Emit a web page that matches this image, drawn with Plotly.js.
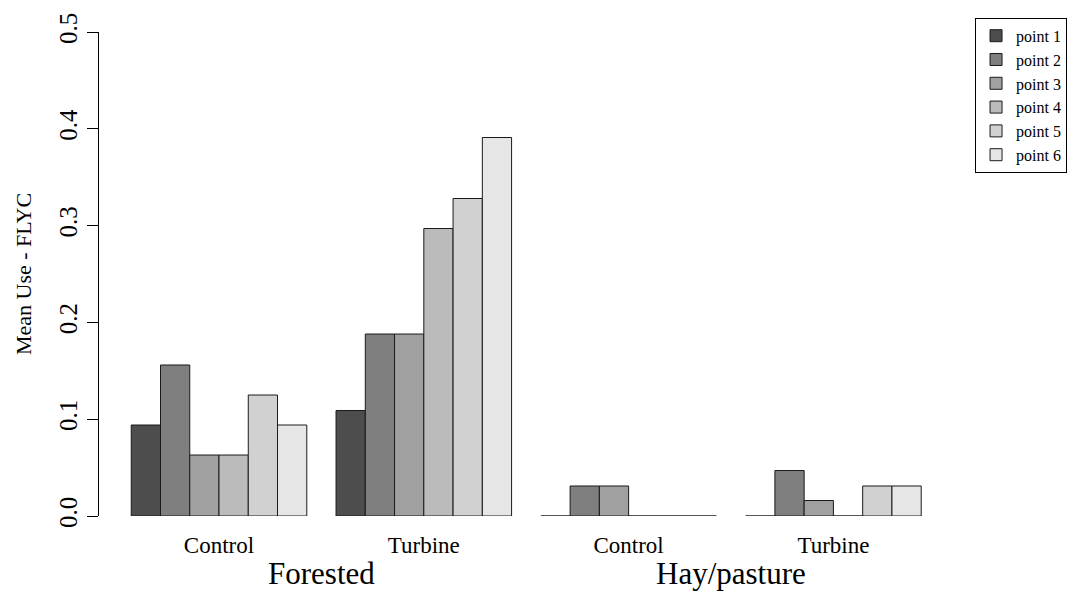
<!DOCTYPE html>
<html>
<head>
<meta charset="utf-8">
<script src="https://cdn.plot.ly/plotly-3.0.1.min.js"></script>
<style>html,body{margin:0;padding:0;background:#fff;}#chart{width:1073px;height:593px;}</style>
</head>
<body>
<div id="chart"></div>
<script>
// Categories (habitat x treatment)
const groupKeys = ['Forested|Control', 'Forested|Turbine', 'Hay/pasture|Control', 'Hay/pasture|Turbine'];
const groupLabels = ['Control', 'Turbine', 'Control', 'Turbine'];
const habitats = ['Forested', 'Hay/pasture'];
const seriesNames = ['point 1', 'point 2', 'point 3', 'point 4', 'point 5', 'point 6'];
const seriesColors = ['#4D4D4D', '#7F7F7F', '#A0A0A0', '#BBBBBB', '#D1D1D1', '#E6E6E6'];

// Mean use values per point, one entry per category
const point1 = [0.094, 0.109, 0.000, 0.000];
const point2 = [0.156, 0.188, 0.031, 0.047];
const point3 = [0.063, 0.188, 0.031, 0.016];
const point4 = [0.063, 0.297, 0.000, 0.000];
const point5 = [0.125, 0.328, 0.000, 0.031];
const point6 = [0.094, 0.391, 0.000, 0.031];
const yTicks = [0.0, 0.1, 0.2, 0.3, 0.4, 0.5];

const seriesValues = [point1, point2, point3, point4, point5, point6];
const serif = 'Liberation Serif, Times New Roman, serif';

const traces = seriesValues.map((vals, i) => ({
  type: 'bar',
  name: seriesNames[i],
  x: groupKeys,
  y: vals,
  marker: {color: seriesColors[i], line: {color: '#1a1a1a', width: 1}},
  cliponaxis: false,
  hoverinfo: 'name+y'
}));

const layout = {
  width: 1073,
  height: 593,
  margin: {l: 99, r: 121, t: 32, b: 77, pad: 0, autoexpand: false},
  paper_bgcolor: '#ffffff',
  plot_bgcolor: '#ffffff',
  barmode: 'group',
  bargap: 1 / 7,
  bargroupgap: 0,
  font: {family: serif, color: '#000'},
  xaxis: {
    type: 'category',
    range: [-0.586, 3.579],
    tickmode: 'array',
    tickvals: groupKeys,
    ticktext: groupLabels,
    ticks: '',
    showline: false,
    showgrid: false,
    zeroline: false,
    tickfont: {family: serif, size: 23, color: '#000'},
    ticklabelstandoff: 13
  },
  yaxis: {
    range: [0, 0.5],
    tickmode: 'array',
    tickvals: yTicks,
    ticktext: yTicks.map(v => v.toFixed(1)),
    ticks: 'outside',
    ticklen: 11,
    tickwidth: 1,
    tickcolor: '#000',
    showline: true,
    linecolor: '#000',
    linewidth: 1,
    showgrid: false,
    zeroline: false,
    tickangle: -90,
    tickfont: {family: serif, size: 25, color: '#000'},
    title: {text: 'Mean Use - FLYC', font: {family: serif, size: 22, color: '#000'}, standoff: 17}
  },
  legend: {
    xref: 'container', yref: 'container',
    x: 0.9087, y: 0.970, xanchor: 'left', yanchor: 'top',
    bordercolor: '#000', borderwidth: 1, bgcolor: '#fff',
    font: {family: serif, size: 16, color: '#000'},
    traceorder: 'normal'
  },
  annotations: habitats.map((h, i) => ({
    text: h,
    x: 2 * i + 0.5,
    xref: 'x',
    y: -0.118,
    yref: 'paper',
    xanchor: 'center',
    yanchor: 'middle',
    showarrow: false,
    font: {family: serif, size: 31, color: '#000'}
  }))
};

Plotly.newPlot('chart', traces, layout, {displayModeBar: false, staticPlot: true});
</script>
</body>
</html>
